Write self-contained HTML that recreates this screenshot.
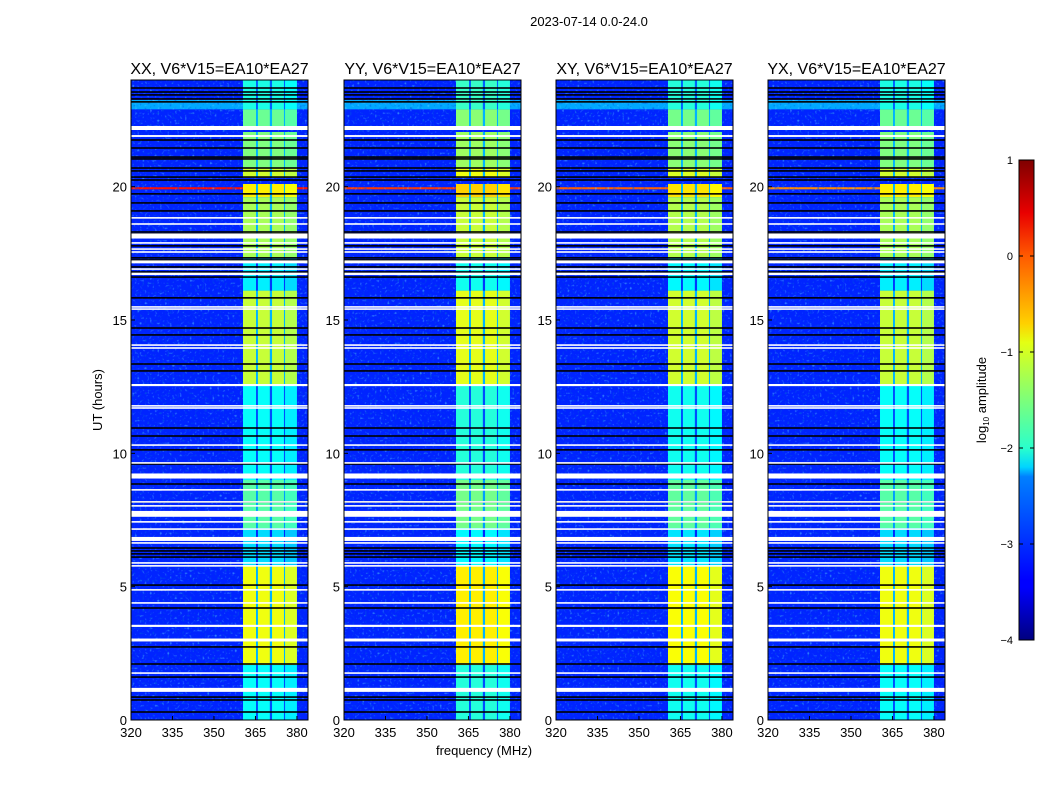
<!DOCTYPE html>
<html><head><meta charset="utf-8"><style>
body{margin:0;background:#fff;width:1050px;height:800px;overflow:hidden;font-family:"Liberation Sans",sans-serif}
svg text{font-family:"Liberation Sans",sans-serif;fill:#000}
</style></head><body>
<svg id="chart" width="1050" height="800" xmlns="http://www.w3.org/2000/svg">
<defs>
<filter id="speckDark" x="0" y="0" width="100%" height="100%">
<feTurbulence type="fractalNoise" baseFrequency="0.4" numOctaves="1" seed="3"/>
<feColorMatrix type="matrix" values="0 0 0 0 0  0 0 0 0 0.1  0 0 0 0 0.75  3 0 0 0 -1.75"/>
</filter>
<filter id="speckLight" x="0" y="0" width="100%" height="100%">
<feTurbulence type="fractalNoise" baseFrequency="0.4" numOctaves="1" seed="11"/>
<feColorMatrix type="matrix" values="0 0 0 0 0.1  0 0 0 0 0.6  0 0 0 0 1  0 3 0 0 -1.8"/>
</filter>
<linearGradient id="jetgrad" x1="0" y1="1" x2="0" y2="0">
<stop offset="0" stop-color="#00007f"/><stop offset="0.11" stop-color="#0000ff"/><stop offset="0.125" stop-color="#0000ff"/>
<stop offset="0.34" stop-color="#0080ff"/><stop offset="0.36" stop-color="#00d4ff"/><stop offset="0.4" stop-color="#2affcc"/>
<stop offset="0.5" stop-color="#7dff7a"/><stop offset="0.62" stop-color="#e4ff13"/><stop offset="0.66" stop-color="#ffd000"/>
<stop offset="0.8" stop-color="#ff5a00"/><stop offset="0.89" stop-color="#e90000"/><stop offset="1" stop-color="#7f0000"/>
</linearGradient>
</defs>
<text x="589" y="26" font-size="13" text-anchor="middle">2023-07-14 0.0-24.0</text>
<g id="panels"></g>
<text transform="translate(102,400) rotate(-90)" font-size="13" text-anchor="middle">UT (hours)</text>
<text x="484" y="755" font-size="13" text-anchor="middle">frequency (MHz)</text>
<g id="cbar"></g>
</svg>
<script>
const panelTitles = ["XX, V6*V15=EA10*EA27","YY, V6*V15=EA10*EA27","XY, V6*V15=EA10*EA27","YX, V6*V15=EA10*EA27"];
const panelOffset = [0, 0.15, 0.05, 0];
const xTicks = [320,335,350,365,380];
const yTicks = [0,5,10,15,20];
const cbTicks = [1,0,-1,-2,-3,-4];
const bgLevel = -3.2;
// band columns in MHz [start,end]
const bandCols = [[360.5,365.2],[365.9,370.2],[371.0,375.3],[375.7,380.0]];
// band segments: [startHour, endHour, log10 amplitude]
const bandSegs = [[22.9,24,-2.0],[22.2,22.9,-1.6],[20.7,22.05,-1.5],[20.33,20.7,-1.1],[19.6,20.1,-0.8],[17.3,19.6,-1.3],[16.1,17.3,-2.2],[12.56,16.1,-1.15],[9.0,12.56,-2.1],[7.2,9.0,-1.7],[5.8,7.2,-2.3],[2.06,5.8,-0.95],[0,2.06,-2.1]];
// full-width bright rows: [hour, duration, level]
const fullRows = [[22.9,0.35,-2.55],[19.9,0.08,0.3]];
const whiteHours = [22.20,21.90,18.83,18.60,18.15,17.89,17.66,17.55,17.18,16.91,16.73,15.49,15.41,14.06,13.95,12.56,11.78,11.70,10.31,9.64,9.15,8.63,8.18,8.03,7.73,7.43,7.16,6.79,6.64,5.89,5.78,4.88,4.39,3.53,3.00,1.76,1.13];
const whiteDur = [0.15,0.07,0.06,0.06,0.19,0.06,0.06,0.06,0.11,0.06,0.09,0.06,0.06,0.06,0.06,0.08,0.06,0.06,0.06,0.06,0.19,0.06,0.06,0.06,0.22,0.06,0.06,0.15,0.06,0.06,0.06,0.06,0.06,0.08,0.11,0.06,0.15];
const blackHours = [23.70,23.55,23.44,23.29,23.18,21.75,21.45,21.11,21.04,20.70,20.59,20.36,20.25,19.73,19.39,19.09,18.30,18.23,17.78,17.33,17.25,16.99,16.80,16.61,15.83,14.70,14.44,13.35,13.09,10.95,10.65,10.13,9.60,8.85,8.18,6.45,6.34,6.23,6.11,5.06,4.20,2.74,2.10,1.61,0.86,0.75,0.30];

const NS="http://www.w3.org/2000/svg";
const panelX=[131,344,556,768], PW=177, PT=80, PB=720;
const fMin=320, fMax=384, hMin=0, hMax=24;
function jet(v){let t=Math.max(0,Math.min(1,(v+4)/5));
 const r=Math.max(0,Math.min(1,1.5-Math.abs(4*t-3))),g=Math.max(0,Math.min(1,1.5-Math.abs(4*t-2))),b=Math.max(0,Math.min(1,1.5-Math.abs(4*t-1)));
 return `rgb(${Math.round(r*255)},${Math.round(g*255)},${Math.round(b*255)})`;}
function el(tag,attrs,parent){const e=document.createElementNS(NS,tag);for(const k in attrs)e.setAttribute(k,attrs[k]);parent.appendChild(e);return e;}
const panels=document.getElementById('panels');
panelX.forEach((x0,pi)=>{
 const xs=f=>x0+(f-fMin)/(fMax-fMin)*PW;
 const ys=h=>PB-(h-hMin)/(hMax-hMin)*(PB-PT);
 const g=el('g',{},panels);
 
 
 const bg=el('rect',{x:x0,y:PT,width:PW,height:PB-PT,fill:jet(bgLevel)},g);
 
 
 fullRows.forEach(r=>{const e=el('rect',{x:x0,y:ys(r[0]+r[1]),width:PW,height:Math.max(1.5,ys(r[0])-ys(r[0]+r[1])),fill:jet(r[2]+(r[2]>-1?-pi*0.2:0))},g);
  
  });
 const n1=el('rect',{x:x0,y:PT,width:PW,height:PB-PT,filter:'url(#speckDark)'},g);
 
 
 const n2=el('rect',{x:x0,y:PT,width:PW,height:PB-PT,filter:'url(#speckLight)',opacity:0.8},g);
 
 
 bandSegs.forEach(s=>{
  const gap=el('rect',{x:xs(bandCols[0][0]),y:ys(s[1]),width:xs(bandCols[3][1])-xs(bandCols[0][0]),height:ys(s[0])-ys(s[1]),fill:jet(Math.min(s[2]-0.9,-2.5))},g);
  
  
  bandCols.forEach((c,ci)=>{
   const e=el('rect',{x:xs(c[0]),y:ys(s[1]),width:xs(c[1])-xs(c[0]),height:ys(s[0])-ys(s[1]),fill:jet(s[2]+panelOffset[pi]-(ci==3?0.1:0))},g);
   
   
  });
 });
 blackHours.forEach(h=>{const e=el('rect',{x:x0,y:ys(h)-0.8,width:PW,height:1.6,fill:'#000'},g);
  
  });
 whiteHours.forEach((h,i)=>{const y1=ys(h+whiteDur[i]/2),y2=ys(h-whiteDur[i]/2);
  const e=el('rect',{x:x0,y:y1,width:PW,height:Math.max(1.5,y2-y1),fill:'#fff'},g);
  
  });
 const fr=el('rect',{x:x0,y:PT,width:PW,height:PB-PT,fill:'none',stroke:'#000','stroke-width':1},g);
 
 
 const t=el('text',{x:x0+PW/2,y:74,'font-size':16,'text-anchor':'middle'},g);t.textContent=panelTitles[pi];
 
 
 xTicks.forEach(v=>{const x=xs(v);
  el('line',{x1:x,x2:x,y1:PB,y2:PB-4,stroke:'#000'},g);
  const tt=el('text',{x:x,y:737,'font-size':13,'text-anchor':'middle'},g);tt.textContent=v;
  
  });
 yTicks.forEach(v=>{const y=ys(v);
  el('line',{x1:x0,x2:x0+4,y1:y,y2:y,stroke:'#000'},g);
  const tt=el('text',{x:x0-4,y:y+5,'font-size':13,'text-anchor':'end'},g);tt.textContent=v;
  
  });
});
const cb=document.getElementById('cbar');
const cbT=160,cbB=640,cbX=1019,cbW=15;
const cys=v=>cbB-(v+4)/5*(cbB-cbT);
const cr=el('rect',{x:cbX,y:cbT,width:cbW,height:cbB-cbT,fill:'url(#jetgrad)',stroke:'#000','stroke-width':1},cb);


cbTicks.forEach(v=>{const y=cys(v);
 el('line',{x1:cbX,x2:cbX+4,y1:y,y2:y,stroke:'#000'},cb);
 el('line',{x1:cbX+cbW-4,x2:cbX+cbW,y1:y,y2:y,stroke:'#000'},cb);
 const tt=el('text',{x:1013,y:y+4,'font-size':11,'text-anchor':'end'},cb);tt.textContent=v<0?'\u2212'+(-v):v;
 
 });
const cl=el('text',{transform:'translate(986,400) rotate(-90)','font-size':13,'text-anchor':'middle'},cb);
cl.innerHTML='log<tspan font-size="8" dy="3">10</tspan><tspan dy="-3"> amplitude</tspan>';


</script>
</body></html>
